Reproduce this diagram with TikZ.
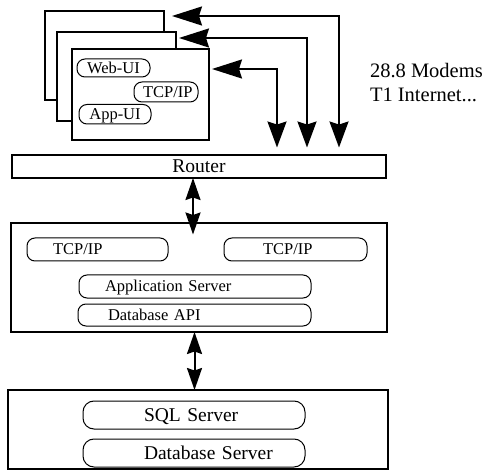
\documentclass[tikz,border=0pt]{standalone}
\usepackage{fontspec}
\setmainfont{Liberation Serif}
\usetikzlibrary{arrows.meta}
\setlength{\parindent}{0pt}
\begin{document}
\begin{tikzpicture}[x=1pt,y=-1pt,
  every node/.style={outer sep=0pt},
  box/.style={draw, line width=2pt, fill=white, inner sep=0pt},
  pill/.style={draw, line width=1pt, rounded corners=8pt, inner xsep=0pt, inner ysep=0pt, text depth=0pt},
  smalltext/.style={font=\fontsize{16.5}{18}\selectfont, text height=10.9pt},
  bigtext/.style={font=\fontsize{19.5}{24}\selectfont, text height=12.9pt},
  wirearrow/.style={line width=2pt,
    {Stealth[length=30pt,width=19pt,inset=3pt]}-{Stealth[length=26pt,width=19pt,inset=3pt]}},
  linkarrow/.style={line width=2pt,
    {Stealth[length=22pt,width=15pt,inset=2.5pt]}-{Stealth[length=22pt,width=15pt,inset=2.5pt]}}]

\useasboundingbox (0,0) rectangle (487,470);

% stacked client windows
\node[box, minimum width=119pt, minimum height=89pt] (w3) at (104.5,55.5) {};
\node[box, minimum width=119pt, minimum height=89pt] (w2) at (116.5,76.5) {};
\node[box, minimum width=137pt, minimum height=91pt] (w1) at (140.5,94.5) {};

% client components
\node[pill, smalltext, minimum width=73pt, minimum height=18pt] (webui) at (113.5,68) {Web-UI};
\node[pill, smalltext, text width=64pt, align=left, minimum height=20pt] (tcpc) at (166,92) {\hspace*{9pt}TCP/IP};
\node[pill, smalltext, minimum width=72pt, minimum height=19.5pt] (appui) at (115,114.25) {App-UI};

% router
\node[box, bigtext, minimum width=374pt, minimum height=23pt] (router) at (199,166.5) {Router};

% side note
\node[anchor=north west, align=left, inner sep=0pt, font=\fontsize{20.5}{24}\selectfont] (links) at (370,63.2) {28.8 Modems\\T1 Internet...};

% application server tier
\node[box, minimum width=376pt, minimum height=109pt] (app) at (199,277.5) {};
\node[pill, smalltext, text width=141pt, align=left, minimum height=23pt] (tcpa) at (97.5,249.5) {\hspace*{26pt}TCP/IP};
\node[pill, smalltext, text width=143pt, align=left, minimum height=23pt] (tcpb) at (295.5,249.5) {\hspace*{39pt}TCP/IP};
\node[pill, smalltext, text width=232pt, align=left, minimum height=23pt] (appsrv) at (195,286.5) {\hspace*{26pt}Application Server};
\node[pill, smalltext, text width=233pt, align=left, minimum height=22pt] (dbapi) at (194.5,315) {\hspace*{30pt}Database API};

% database tier
\node[box, minimum width=380pt, minimum height=78.5pt] (db) at (198,429.25) {};
\node[pill, bigtext, rounded corners=11pt, text width=222pt, align=left, minimum height=28pt] (sql) at (194,415) {\hspace*{61pt}SQL Server};
\node[pill, bigtext, rounded corners=11pt, text width=222pt, align=left, minimum height=28pt] (dbsrv) at (194,453) {\hspace*{61pt}Database Server};

% connector columns
\coordinate (v1) at (339,0);
\coordinate (v2) at (307,0);
\coordinate (v3) at (277,0);
\coordinate (v4) at (193,0);
\coordinate (v5) at (194.5,0);

% client lines into the router
\draw[wirearrow] ([shift={(8pt,-5pt)}]w3.north east) -| ([yshift=7.5pt]router.north -| v1);
\draw[wirearrow] ([shift={(3pt,-6pt)}]w2.north east) -| ([yshift=7.5pt]router.north -| v2);
\draw[wirearrow] ([shift={(3pt,-20pt)}]w1.north east) -| ([yshift=7.5pt]router.north -| v3);

% tier links
\draw[linkarrow] (router.south -| v4) -- ([yshift=-11.5pt]app.north -| v4);
\draw[linkarrow] (app.south -| v5) -- (db.north -| v5);
\end{tikzpicture}
\end{document}
